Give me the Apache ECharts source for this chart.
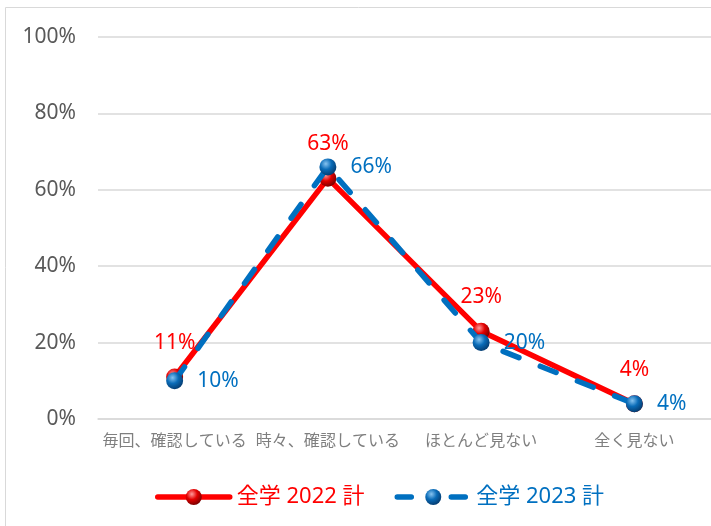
<!DOCTYPE html>
<html><head><meta charset="utf-8">
<script src="https://cdn.jsdelivr.net/npm/echarts@6/dist/echarts.min.js"></script>
<style>html,body{margin:0;padding:0;background:#fff}#c{width:711px;height:526px}</style>
</head><body><div id="c"></div>
<script>
const categories = ['毎回、確認している', '時々、確認している', 'ほとんど見ない', '全く見ない'];
const seriesNames = ['全学 2022 計', '全学 2023 計'];
const values2022 = [11, 63, 23, 4];
const values2023 = [10, 66, 20, 4];
const yTicks = [0, 20, 40, 60, 80, 100];

const RED = '#FF0000', BLUE = '#0070C0';
const FONT = '"Noto Sans", "Noto Sans CJK JP", sans-serif';
function sphere(hi, mid, dark) {
  return new echarts.graphic.RadialGradient(0.38, 0.32, 0.75, [
    {offset: 0, color: hi}, {offset: 0.45, color: mid}, {offset: 1, color: dark}
  ]);
}
const chart = echarts.init(document.getElementById('c'), null, {renderer: 'canvas'});
chart.setOption({
  animation: false,
  textStyle: {fontFamily: FONT},
  graphic: [{type: 'rect', shape: {x: 5.5, y: 7.5, width: 800, height: 600},
    style: {fill: 'none', stroke: '#d9d9d9', lineWidth: 1}, z: -10}],
  grid: {left: 98, right: -2, top: 37, bottom: 107},
  legend: {
    left: 150, top: 481, itemWidth: 72, itemHeight: 20, itemGap: 30,
    lineStyle: {width: 5.5, cap: 'round'},
    data: [
      {name: seriesNames[0], textStyle: {color: RED}},
      {name: seriesNames[1], textStyle: {color: BLUE}, lineStyle: {type: [14, 40]}}
    ],
    textStyle: {fontSize: 22, fontFamily: FONT, padding: [0, 0, 0, 2]}
  },
  xAxis: {
    type: 'category', data: categories, boundaryGap: true,
    axisLine: {show: true, lineStyle: {color: '#d9d9d9', width: 1.5}},
    axisTick: {show: false},
    axisLabel: {color: '#7f7f7f', fontSize: 16, margin: 13, interval: 0, fontFamily: '"Noto Sans CJK JP", sans-serif'}
  },
  yAxis: {
    type: 'value', min: yTicks[0], max: yTicks[yTicks.length - 1], interval: 20,
    axisLine: {show: false}, axisTick: {show: false},
    splitLine: {lineStyle: {color: '#d9d9d9', width: 1.5}},
    axisLabel: {formatter: '{value}%', color: '#595959', fontSize: 21, margin: 22}
  },
  series: [
    {
      name: seriesNames[0], type: 'line', data: values2022, z: 2,
      symbol: 'circle', symbolSize: 17,
      lineStyle: {color: RED, width: 5.5, cap: 'round'},
      itemStyle: {color: sphere('#ff9a9a', '#e30000', '#6a0000'), borderWidth: 0},
      label: {show: true, position: 'top', distance: 15, color: RED, fontSize: 21,
        formatter: p => p.value + '%'}
    },
    {
      name: seriesNames[1], type: 'line', data: values2023, z: 3,
      symbol: 'circle', symbolSize: 17,
      lineStyle: {color: BLUE, width: 5.5, type: [17, 23], cap: 'round'},
      itemStyle: {color: sphere('#86c3f0', '#0a6cb8', '#043566'), borderWidth: 0},
      label: {show: true, position: 'right', distance: 14, color: BLUE, fontSize: 21,
        formatter: p => p.value + '%'}
    }
  ]
});
</script></body></html>
